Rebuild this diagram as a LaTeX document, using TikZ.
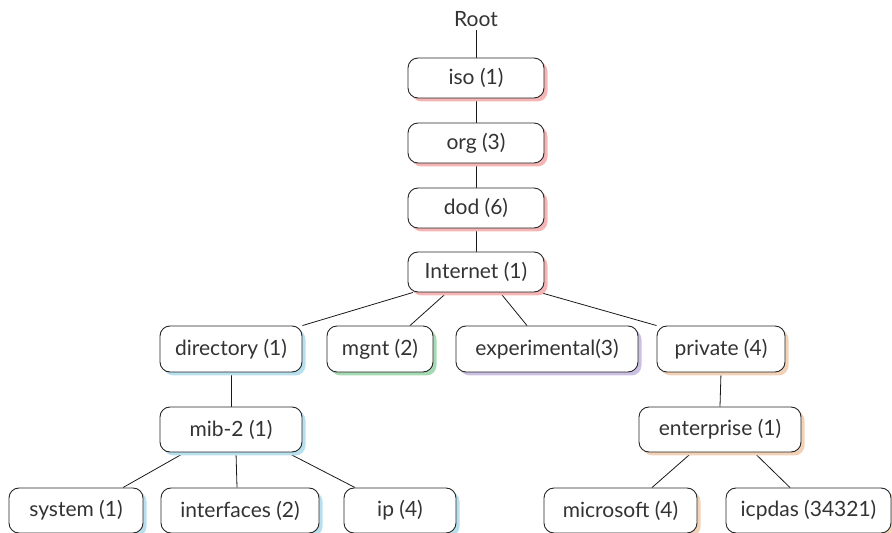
\documentclass[tikz,border=0pt]{standalone}
\usepackage{fontspec}
\setmainfont{Lato}
\usetikzlibrary{shadows,calc,backgrounds}
\definecolor{txt}{HTML}{333333}
\definecolor{shpink}{HTML}{F5B5B5}
\definecolor{shblue}{HTML}{B8DFEE}
\definecolor{shgreen}{HTML}{A6DAB3}
\definecolor{shpurple}{HTML}{CCC0E2}
\definecolor{shpeach}{HTML}{F2D2B6}
\tikzset{
  box/.style={draw=black!85, line width=0.9pt, rounded corners=10pt, fill=white,
    text=txt, font=\fontsize{21}{24}\selectfont, inner sep=0pt, minimum height=40pt},
  sh/.style={general shadow={fill=#1, shadow xshift=3.5pt, shadow yshift=-3.5pt}},
  link/.style={draw=black!90, line width=0.8pt}
}
\begin{document}
\begin{tikzpicture}[x=1pt,y=1pt]
\useasboundingbox (0,0) rectangle (892,533);
\node[text=txt, font=\fontsize{21}{24}\selectfont] (root) at (476,514) {Root};
\node[box, sh=shpink, minimum width=136pt] (iso) at (476,455) {iso (1)};
\node[box, sh=shpink, minimum width=136pt] (org) at (476,390) {org (3)};
\node[box, sh=shpink, minimum width=136pt] (dod) at (476,325) {dod (6)};
\node[box, sh=shpink, minimum width=136pt] (inet) at (476,261) {Internet (1)};
\node[box, sh=shblue, minimum width=142pt, minimum height=46pt] (dir) at (231,184) {directory (1)};
\node[box, sh=shgreen, minimum width=106pt, minimum height=46pt] (mgnt) at (380,184) {mgnt (2)};
\node[box, sh=shpurple, minimum width=182pt, minimum height=46pt] (exp) at (547,184) {experimental(3)};
\node[box, sh=shpeach, minimum width=128pt, minimum height=46pt] (priv) at (721,184) {private (4)};
\node[box, sh=shblue, minimum width=142pt, minimum height=45pt] (mib) at (231,103.5) {mib-2 (1)};
\node[box, sh=shpeach, minimum width=162pt, minimum height=45pt] (ent) at (720,103.5) {enterprise (1)};
\node[box, sh=shblue, minimum width=134pt, minimum height=45pt] (sys) at (76,22.5) {system (1)};
\node[box, sh=shblue, minimum width=158pt, minimum height=45pt] (intf) at (240,22.5) {interfaces (2)};
\node[box, sh=shblue, minimum width=112pt, minimum height=45pt] (ip) at (400,22.5) {ip (4)};
\node[box, sh=shpeach, minimum width=153pt, minimum height=45pt] (ms) at (620.5,22.5) {microsoft (4)};
\node[box, sh=shpeach, minimum width=165pt, minimum height=45pt] (icp) at (808.5,22.5) {icpdas (34321)};
\begin{scope}[on background layer]
\draw[link] (root.south) -- (iso.north);
\draw[link] (iso.south) -- (org.north);
\draw[link] (org.south) -- (dod.north);
\draw[link] (dod.south) -- (inet.north);
\draw[link] ($(inet.south)+(-63,0)$) -- (dir.north east);
\draw[link] ($(inet.south)+(-29,0)$) -- ($(mgnt.north)+(30,0)$);
\draw[link] ($(inet.south)+(24,0)$) -- ($(exp.north)+(-20,0)$);
\draw[link] ($(inet.south)+(64,0)$) -- (priv.north west);
\draw[link] (dir.south) -- (mib.north);
\draw[link] (priv.south) -- (ent.north);
\draw[link] ($(mib.south)+(-46,0)$) -- ($(sys.north)+(47,0)$);
\draw[link] ($(mib.south)+(5,0)$) -- ($(intf.north)+(-3,0)$);
\draw[link] ($(mib.south)+(56,0)$) -- ($(ip.north)+(-45,0)$);
\draw[link] ($(ent.south)+(-28,0)$) -- ($(ms.north)+(31.5,0)$);
\draw[link] ($(ent.south)+(34,0)$) -- ($(icp.north)+(-18.5,0)$);
\end{scope}
\end{tikzpicture}
\end{document}
